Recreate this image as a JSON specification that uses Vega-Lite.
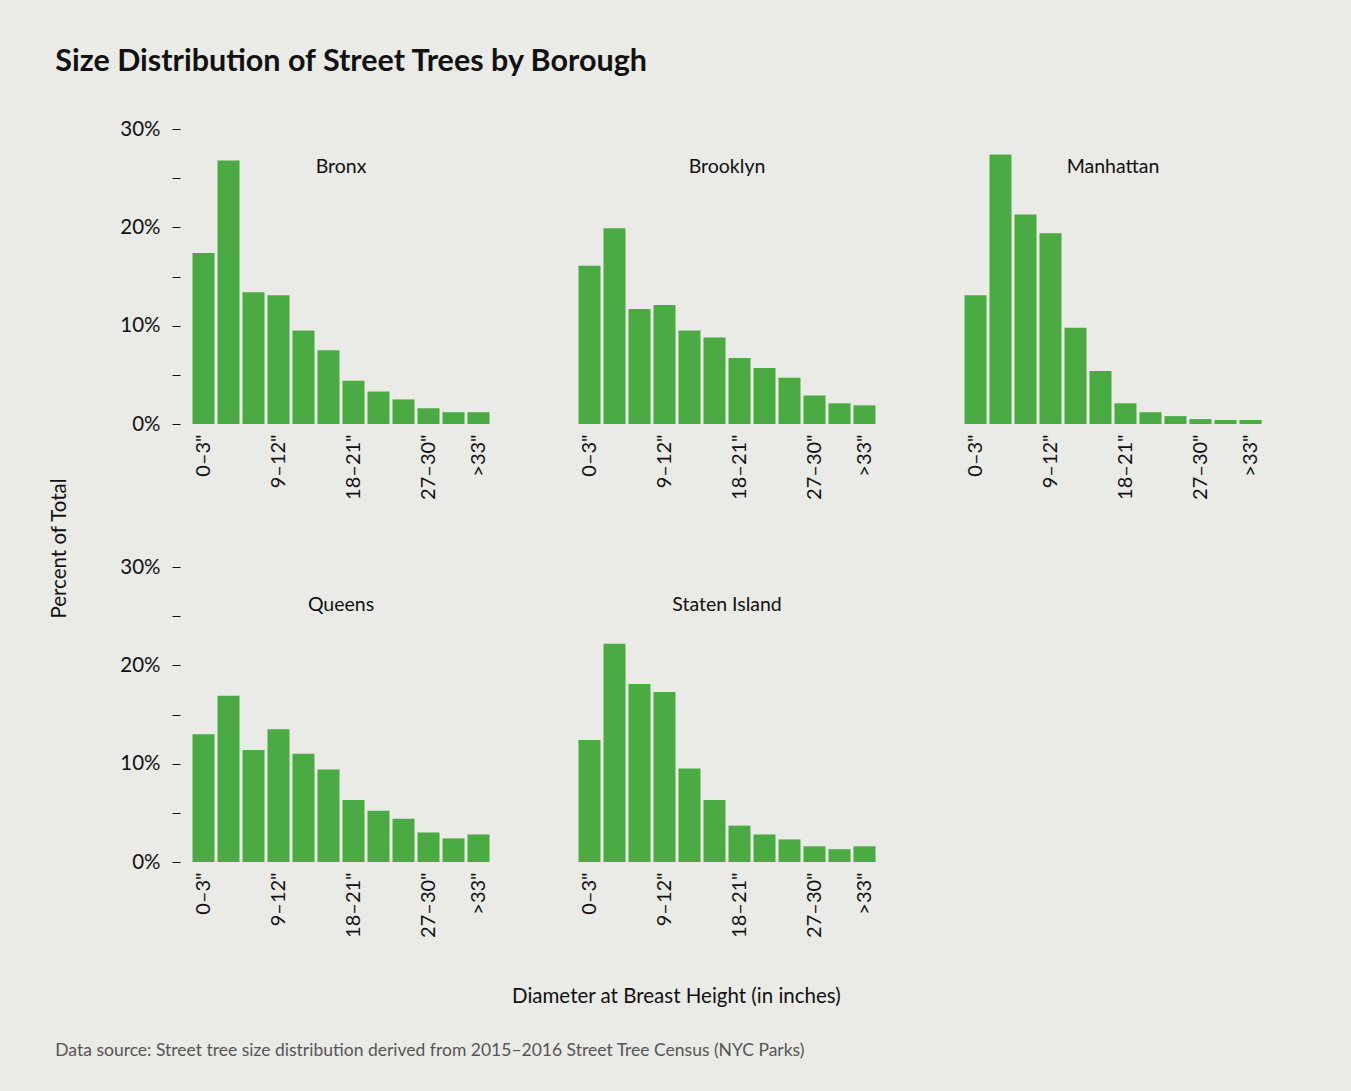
{
  "$schema": "https://vega.github.io/schema/vega-lite/v6.json",
  "background": "#EAEAE6",
  "padding": {"left": 50, "top": 46, "right": 92, "bottom": 38},
  "config": {"font": "Lato", "view": {"stroke": null}},
  "title": {"text": "Size Distribution of Street Trees by Borough", "anchor": "start", "fontSize": 30.5, "fontWeight": "bold", "color": "#111111", "offset": 42, "dx": 5},
  "data": {"values": [
    {"borough": "Bronx", "dbh": "0–3\"", "pct": 17.4},
    {"borough": "Bronx", "dbh": "3–6\"", "pct": 26.8},
    {"borough": "Bronx", "dbh": "6–9\"", "pct": 13.4},
    {"borough": "Bronx", "dbh": "9–12\"", "pct": 13.1},
    {"borough": "Bronx", "dbh": "12–15\"", "pct": 9.5},
    {"borough": "Bronx", "dbh": "15–18\"", "pct": 7.5},
    {"borough": "Bronx", "dbh": "18–21\"", "pct": 4.4},
    {"borough": "Bronx", "dbh": "21–24\"", "pct": 3.3},
    {"borough": "Bronx", "dbh": "24–27\"", "pct": 2.5},
    {"borough": "Bronx", "dbh": "27–30\"", "pct": 1.6},
    {"borough": "Bronx", "dbh": "30–33\"", "pct": 1.2},
    {"borough": "Bronx", "dbh": ">33\"", "pct": 1.2},
    {"borough": "Brooklyn", "dbh": "0–3\"", "pct": 16.1},
    {"borough": "Brooklyn", "dbh": "3–6\"", "pct": 19.9},
    {"borough": "Brooklyn", "dbh": "6–9\"", "pct": 11.7},
    {"borough": "Brooklyn", "dbh": "9–12\"", "pct": 12.1},
    {"borough": "Brooklyn", "dbh": "12–15\"", "pct": 9.5},
    {"borough": "Brooklyn", "dbh": "15–18\"", "pct": 8.8},
    {"borough": "Brooklyn", "dbh": "18–21\"", "pct": 6.7},
    {"borough": "Brooklyn", "dbh": "21–24\"", "pct": 5.7},
    {"borough": "Brooklyn", "dbh": "24–27\"", "pct": 4.7},
    {"borough": "Brooklyn", "dbh": "27–30\"", "pct": 2.9},
    {"borough": "Brooklyn", "dbh": "30–33\"", "pct": 2.1},
    {"borough": "Brooklyn", "dbh": ">33\"", "pct": 1.9},
    {"borough": "Manhattan", "dbh": "0–3\"", "pct": 13.1},
    {"borough": "Manhattan", "dbh": "3–6\"", "pct": 27.4},
    {"borough": "Manhattan", "dbh": "6–9\"", "pct": 21.3},
    {"borough": "Manhattan", "dbh": "9–12\"", "pct": 19.4},
    {"borough": "Manhattan", "dbh": "12–15\"", "pct": 9.8},
    {"borough": "Manhattan", "dbh": "15–18\"", "pct": 5.4},
    {"borough": "Manhattan", "dbh": "18–21\"", "pct": 2.1},
    {"borough": "Manhattan", "dbh": "21–24\"", "pct": 1.2},
    {"borough": "Manhattan", "dbh": "24–27\"", "pct": 0.8},
    {"borough": "Manhattan", "dbh": "27–30\"", "pct": 0.5},
    {"borough": "Manhattan", "dbh": "30–33\"", "pct": 0.4},
    {"borough": "Manhattan", "dbh": ">33\"", "pct": 0.4},
    {"borough": "Queens", "dbh": "0–3\"", "pct": 13.0},
    {"borough": "Queens", "dbh": "3–6\"", "pct": 16.9},
    {"borough": "Queens", "dbh": "6–9\"", "pct": 11.4},
    {"borough": "Queens", "dbh": "9–12\"", "pct": 13.5},
    {"borough": "Queens", "dbh": "12–15\"", "pct": 11.0},
    {"borough": "Queens", "dbh": "15–18\"", "pct": 9.4},
    {"borough": "Queens", "dbh": "18–21\"", "pct": 6.3},
    {"borough": "Queens", "dbh": "21–24\"", "pct": 5.2},
    {"borough": "Queens", "dbh": "24–27\"", "pct": 4.4},
    {"borough": "Queens", "dbh": "27–30\"", "pct": 3.0},
    {"borough": "Queens", "dbh": "30–33\"", "pct": 2.4},
    {"borough": "Queens", "dbh": ">33\"", "pct": 2.8},
    {"borough": "Staten Island", "dbh": "0–3\"", "pct": 12.4},
    {"borough": "Staten Island", "dbh": "3–6\"", "pct": 22.2},
    {"borough": "Staten Island", "dbh": "6–9\"", "pct": 18.1},
    {"borough": "Staten Island", "dbh": "9–12\"", "pct": 17.3},
    {"borough": "Staten Island", "dbh": "12–15\"", "pct": 9.5},
    {"borough": "Staten Island", "dbh": "15–18\"", "pct": 6.3},
    {"borough": "Staten Island", "dbh": "18–21\"", "pct": 3.7},
    {"borough": "Staten Island", "dbh": "21–24\"", "pct": 2.8},
    {"borough": "Staten Island", "dbh": "24–27\"", "pct": 2.3},
    {"borough": "Staten Island", "dbh": "27–30\"", "pct": 1.6},
    {"borough": "Staten Island", "dbh": "30–33\"", "pct": 1.3},
    {"borough": "Staten Island", "dbh": ">33\"", "pct": 1.6}
  ]},
  "vconcat": [{
    "title": {"text": "Data source: Street tree size distribution derived from 2015–2016 Street Tree Census (NYC Parks)", "orient": "bottom", "anchor": "start", "fontSize": 17.5, "fontWeight": "normal", "color": "#555555", "offset": 34, "dx": 5},
    "vconcat": [{
      "title": {"text": "Percent of Total", "orient": "left", "anchor": "middle", "fontSize": 20.5, "fontWeight": "normal", "color": "#111111", "offset": 49, "dx": 15},
      "vconcat": [{
        "title": {"text": "Diameter at Breast Height (in inches)", "orient": "bottom", "anchor": "middle", "fontSize": 20.5, "fontWeight": "normal", "color": "#111111", "offset": 50, "dx": -15},
        "facet": {"field": "borough", "type": "nominal", "title": null, "sort": ["Bronx", "Brooklyn", "Manhattan", "Queens", "Staten Island"],
          "header": {"title": null, "labelFontSize": 19.5, "labelColor": "#111111", "labelPadding": -48, "labelOrient": "top"}},
        "columns": 3,
        "spacing": {"column": 86, "row": 67},
        "resolve": {"axis": {"x": "independent"}},
        "spec": {
          "width": 300,
          "height": 295,
          "mark": {"type": "bar", "color": "#4aab43"},
          "encoding": {
            "x": {"field": "dbh", "type": "nominal", "sort": null,
              "scale": {"paddingInner": 0.12, "paddingOuter": 0.06},
              "axis": {"title": null, "values": ["0–3\"", "9–12\"", "18–21\"", "27–30\"", ">33\""], "labelAngle": -90, "labelFontSize": 20, "labelColor": "#111111", "labelPadding": 10, "ticks": false, "domain": false, "labelBaseline": "middle", "labelAlign": "right"}},
            "y": {"field": "pct", "type": "quantitative", "scale": {"domain": [0, 30], "nice": false},
              "axis": {"title": null, "values": [0, 5, 10, 15, 20, 25, 30], "labelExpr": "datum.value % 10 == 0 ? datum.value + '%' : ''", "grid": false, "domain": false, "tickSize": 8, "tickColor": "#111111", "offset": 11, "labelFontSize": 20.5, "labelColor": "#111111", "labelPadding": 12}}
          }
        }
      }]
    }]
  }]
}
